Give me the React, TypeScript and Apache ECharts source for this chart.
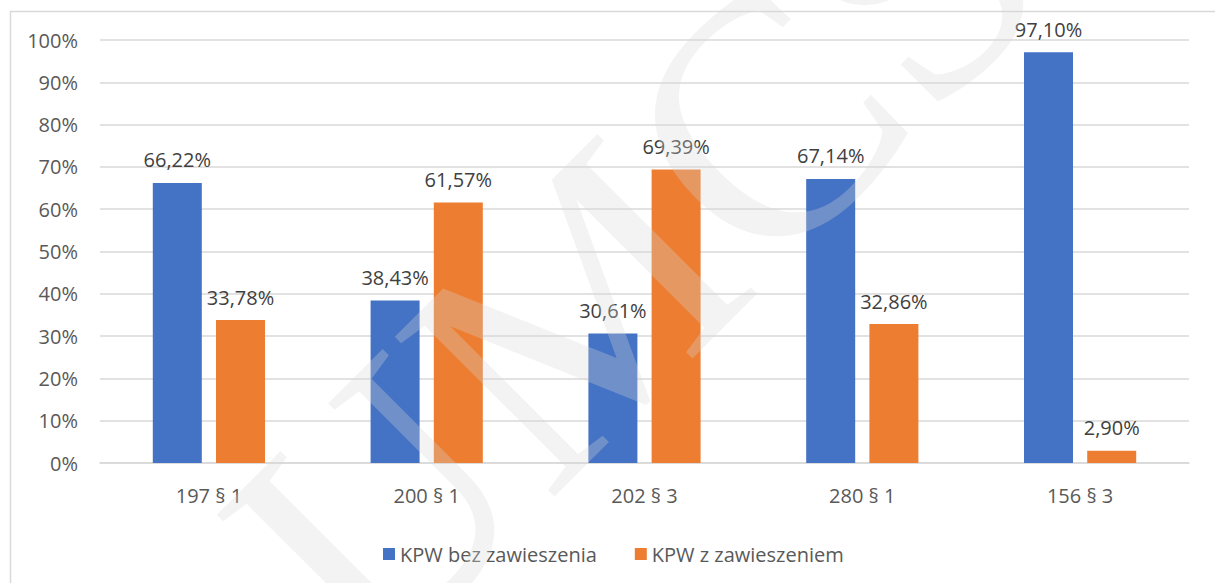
import React, { useEffect, useRef } from "react";
import * as echarts from "echarts";

const categories = ["197 § 1", "200 § 1", "202 § 3", "280 § 1", "156 § 3"];
const seriesNames = ["KPW bez zawieszenia", "KPW z zawieszeniem"];
const bezZawieszenia = [66.22, 38.43, 30.61, 67.14, 97.1];
const zZawieszeniem = [33.78, 61.57, 69.39, 32.86, 2.9];
const yTicks = { min: 0, max: 100, interval: 10 };
const watermarkText = "UMCS";

const FONT = "'Open Sans', 'Noto Sans', sans-serif";

export default function App() {
  const ref = useRef<HTMLDivElement>(null);
  useEffect(() => {
    if (!ref.current) return;
    const chart = echarts.init(ref.current, null, { renderer: "svg" });
    const fmt = (p: any) => Number(p.value).toFixed(2).replace(".", ",") + "%";
    const label = {
      show: true,
      position: "top",
      distance: 13,
      formatter: fmt,
      color: "#404040",
      fontSize: 20,
      fontFamily: FONT,
    };
    chart.setOption({
      animation: false,
      backgroundColor: "#ffffff",
      textStyle: { fontFamily: FONT },
      grid: { left: 100, right: 26, top: 40, bottom: 120, containLabel: false },
      legend: {
        data: seriesNames,
        left: 378,
        top: 539,
        icon: "rect",
        itemWidth: 12,
        itemHeight: 12,
        itemGap: 38,
        textStyle: { fontSize: 20, color: "#595959", fontFamily: FONT },
      },
      xAxis: {
        type: "category",
        data: categories,
        axisTick: { show: false },
        axisLine: { lineStyle: { color: "#d9d9d9", width: 1.5 } },
        axisLabel: { color: "#595959", fontSize: 20, margin: 22, fontFamily: FONT },
      },
      yAxis: {
        type: "value",
        min: yTicks.min,
        max: yTicks.max,
        interval: yTicks.interval,
        axisLabel: {
          formatter: "{value}%",
          color: "#595959",
          fontSize: 20,
          margin: 22,
          fontFamily: FONT,
        },
        axisLine: { show: false },
        axisTick: { show: false },
        splitLine: { lineStyle: { color: "#d9d9d9", width: 1.5 } },
      },
      series: [
        {
          name: seriesNames[0],
          type: "bar",
          data: bezZawieszenia,
          barWidth: 49,
          barGap: "29%",
          itemStyle: { color: "#4472C4" },
          label,
        },
        {
          name: seriesNames[1],
          type: "bar",
          data: zZawieszeniem,
          barWidth: 49,
          barGap: "29%",
          itemStyle: { color: "#ED7D31" },
          label,
        },
      ],
      graphic: [
        {
          type: "rect",
          silent: true,
          z: -1,
          shape: { x: 10.5, y: 11.5, width: 1400, height: 800 },
          style: { fill: "none", stroke: "#d9d9d9", lineWidth: 1.5 },
        },
        {
          type: "text",
          silent: true,
          z: 100,
          x: 635,
          y: 252,
          rotation: Math.PI / 4,
          style: {
            text: watermarkText,
            font: "345px 'Liberation Serif', 'DejaVu Serif', serif",
            fill: "rgba(215,215,215,0.3)",
            align: "center",
            verticalAlign: "middle",
          },
        },
      ],
    });
    return () => chart.dispose();
  }, []);
  return (
    <div
      ref={ref}
      style={{ position: "fixed", left: 0, top: 0, width: 1215, height: 583 }}
    />
  );
}
